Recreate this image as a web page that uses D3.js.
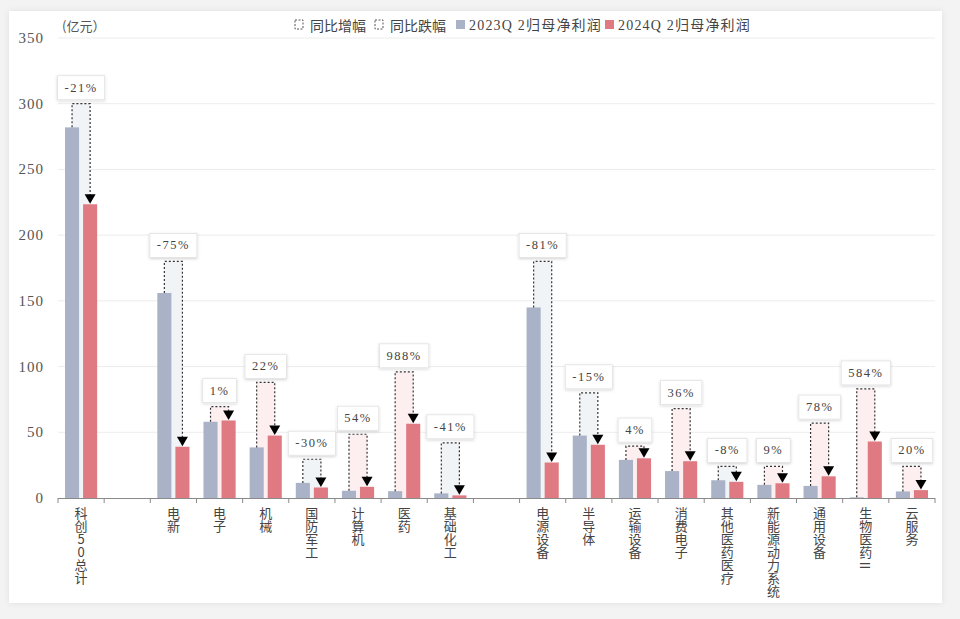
<!DOCTYPE html>
<html><head><meta charset="utf-8">
<script src="https://cdn.jsdelivr.net/npm/d3@7/dist/d3.min.js"></script>
<style>
html,body{margin:0;padding:0;background:#f3f3f3;}
svg{display:block;}
.vlabel{writing-mode:vertical-rl;text-orientation:upright;}
.side{text-orientation:sideways;}
</style></head>
<body>
<svg id="chart" width="960" height="619"></svg>
<script>
// ---- data ----
const categories = ["科创50总计","","电新","电子","机械","国防军工","计算机","医药","基础化工","","电源设备","半导体","运输设备","消费电子","其他医药医疗","新能源动力系统","通用设备","生物医药Ⅱ","云服务"];
const profit2023 = [282, null, 156, 58, 38.5, 11.5, 5.5, 5.2, 3.5, null, 145, 47.5, 29, 20.5, 13.5, 10, 9.2, 0.5, 5];
const profit2024 = [223.5, null, 39, 59, 47.5, 8, 8.5, 56.5, 2, null, 27, 40.5, 30.2, 28, 12.3, 11.2, 16.5, 43, 6];
const yoyLabels = ["-21%", null, "-75%", "1%", "22%", "-30%", "54%", "988%", "-41%", null, "-81%", "-15%", "4%", "36%", "-8%", "9%", "78%", "584%", "20%"];
const bracketLevel = [300, null, 180, 69.5, 88, 29.5, 48.5, 96, 42, null, 180, 80, 39.5, 68, 24, 24, 57, 83, 24];
const yTicks = [0, 50, 100, 150, 200, 250, 300, 350];
const seriesNames = ["2023Q 2归母净利润", "2024Q 2归母净利润"];
const legendBracketNames = ["同比增幅", "同比跌幅"];

const colGray = "#a9b2c7", colRed = "#e07a82";
const fillUp = "#fdeff0", fillDown = "#f1f4f7";

const svg = d3.select("#chart");
const defs = svg.append("defs");
const f1 = defs.append("filter").attr("id","cardShadow").attr("x","-5%").attr("y","-5%").attr("width","110%").attr("height","110%");
f1.append("feDropShadow").attr("dx",0).attr("dy",0).attr("stdDeviation",3).attr("flood-color","#000").attr("flood-opacity",0.08);
const f2 = defs.append("filter").attr("id","boxShadow").attr("x","-30%").attr("y","-30%").attr("width","160%").attr("height","160%");
f2.append("feDropShadow").attr("dx",0).attr("dy",1).attr("stdDeviation",1.5).attr("flood-color","#000").attr("flood-opacity",0.18);

// card
svg.append("rect").attr("x",9).attr("y",11).attr("width",933).attr("height",592).attr("fill","#fff").attr("filter","url(#cardShadow)");

const x0 = 58, x1r = 935, yBase = 498, yTop = 38;
const idx = categories.map((d,i)=>i);
const x = d3.scaleBand().domain(idx).range([x0, x1r]).padding(0);
const xs = d3.scaleBand().domain([0,1]).range([7, x.bandwidth()-7]).paddingInner(0.22);
const y = d3.scaleLinear().domain([0,350]).range([yBase, yTop]);

// gridlines
svg.append("g").selectAll("line").data(yTicks.filter(t=>t>0)).join("line")
  .attr("x1",x0).attr("x2",x1r).attr("y1",d=>y(d)).attr("y2",d=>y(d))
  .attr("stroke","#ececec").attr("stroke-width",1);

// y labels
svg.append("g").selectAll("text").data(yTicks).join("text")
  .attr("x",44).attr("y",d=>y(d)).attr("text-anchor","end").attr("dominant-baseline","central")
  .attr("font-family","'Liberation Serif','DejaVu Serif',serif").attr("font-size",15).attr("letter-spacing",1)
  .attr("fill","#555").text(d=>d);
svg.append("text").attr("x",62).attr("y",25).attr("dominant-baseline","central")
  .attr("font-family","'Noto Sans CJK SC',sans-serif").attr("font-size",13).attr("fill","#555").text("(亿元）");

const rows = idx.filter(i=>profit2023[i]!==null);
const cx = (i,s)=> x(i)+xs(s)+xs.bandwidth()/2;

// bracket fills
svg.append("g").selectAll("rect").data(rows).join("rect")
  .attr("x",i=>cx(i,0)).attr("width",i=>cx(i,1)-cx(i,0))
  .attr("y",i=>y(bracketLevel[i])).attr("height",i=>yBase-y(bracketLevel[i]))
  .attr("fill",i=>profit2024[i]>=profit2023[i]?fillUp:fillDown);

// bars
const gb = svg.append("g");
gb.selectAll("rect.a").data(rows).join("rect").attr("class","a")
  .attr("x",i=>x(i)+xs(0)).attr("width",xs.bandwidth())
  .attr("y",i=>y(profit2023[i])).attr("height",i=>yBase-y(profit2023[i])).attr("fill",colGray);
gb.selectAll("rect.b").data(rows).join("rect").attr("class","b")
  .attr("x",i=>x(i)+xs(1)).attr("width",xs.bandwidth())
  .attr("y",i=>y(profit2024[i])).attr("height",i=>yBase-y(profit2024[i])).attr("fill",colRed);

// dashed brackets + arrows
const gd = svg.append("g");
rows.forEach(i=>{
  const xa = cx(i,0), xb = cx(i,1), yt = y(bracketLevel[i]);
  const ya = y(profit2023[i]), yr = y(profit2024[i]);
  gd.append("path").attr("d",`M${xa},${ya}V${yt}H${xb}V${yr-9}`)
    .attr("fill","none").attr("stroke","#333").attr("stroke-width",1.2).attr("stroke-dasharray","2,2");
  gd.append("path").attr("d",`M${xb-5.5},${yr-10}L${xb+5.5},${yr-10}L${xb},${yr-0.5}Z`).attr("fill","#000");
  const g = gd.append("g");
  const t = g.append("text").attr("x",x(i)+x.bandwidth()/2).attr("y",yt-16).attr("text-anchor","middle")
    .attr("dominant-baseline","central").attr("font-family","'Liberation Serif','DejaVu Serif',serif")
    .attr("font-size",12.5).attr("letter-spacing",1.5).attr("fill","#444").text(yoyLabels[i]);
  const w = t.node().getComputedTextLength()+14;
  g.insert("rect","text").attr("x",x(i)+x.bandwidth()/2-w/2).attr("y",yt-28).attr("width",w).attr("height",24)
    .attr("fill","#fff").attr("stroke","#e2e2e2").attr("stroke-width",0.8).attr("filter","url(#boxShadow)");
});

// x axis
svg.append("line").attr("x1",x0).attr("x2",x1r).attr("y1",yBase+0.5).attr("y2",yBase+0.5).attr("stroke","#8a8a8a");
svg.append("g").selectAll("line").data(d3.range(categories.length+1)).join("line")
  .attr("x1",d=>x0+d*x.step()).attr("x2",d=>x0+d*x.step()).attr("y1",yBase).attr("y2",yBase+5).attr("stroke","#8a8a8a");

// vertical x labels
const gx = svg.append("g");
idx.forEach(i=>{
  const label = categories[i];
  if(!label) return;
  const t = gx.append("text").attr("class","vlabel")
    .attr("x",x(i)+x.bandwidth()/2).attr("y",507)
    .attr("font-family","'Noto Sans CJK SC',sans-serif").attr("font-size",13).attr("fill","#444");
  const parts = label.split(/(Ⅱ)/).filter(s=>s);
  parts.forEach(p=>{
    const ts = t.append("tspan").text(p);
    if(p==="Ⅱ") ts.attr("class","side");
  });
});

// legend
const lg = svg.append("g");
const lf = "'Liberation Serif','Noto Sans CJK SC',serif";
[[295,310,legendBracketNames[0]],[375,390,legendBracketNames[1]]].forEach(([ix,tx,name])=>{
  lg.append("rect").attr("x",ix).attr("y",20).attr("width",8).attr("height",9).attr("fill","none")
    .attr("stroke","#555").attr("stroke-width",1).attr("stroke-dasharray","2,1.5");
  lg.append("text").attr("x",tx).attr("y",25).attr("dominant-baseline","central").attr("font-family","'Noto Sans CJK SC',sans-serif")
    .attr("font-size",14).attr("fill","#444").text(name);
});
[[456,469,colGray,seriesNames[0]],[605,618,colRed,seriesNames[1]]].forEach(([ix,tx,c,name])=>{
  lg.append("rect").attr("x",ix).attr("y",20).attr("width",9).attr("height",9).attr("fill",c);
  lg.append("text").attr("x",tx).attr("y",25).attr("dominant-baseline","central").attr("font-family",lf)
    .attr("font-size",14).attr("letter-spacing",1.2).attr("fill","#444").text(name);
});
</script>
</body></html>
